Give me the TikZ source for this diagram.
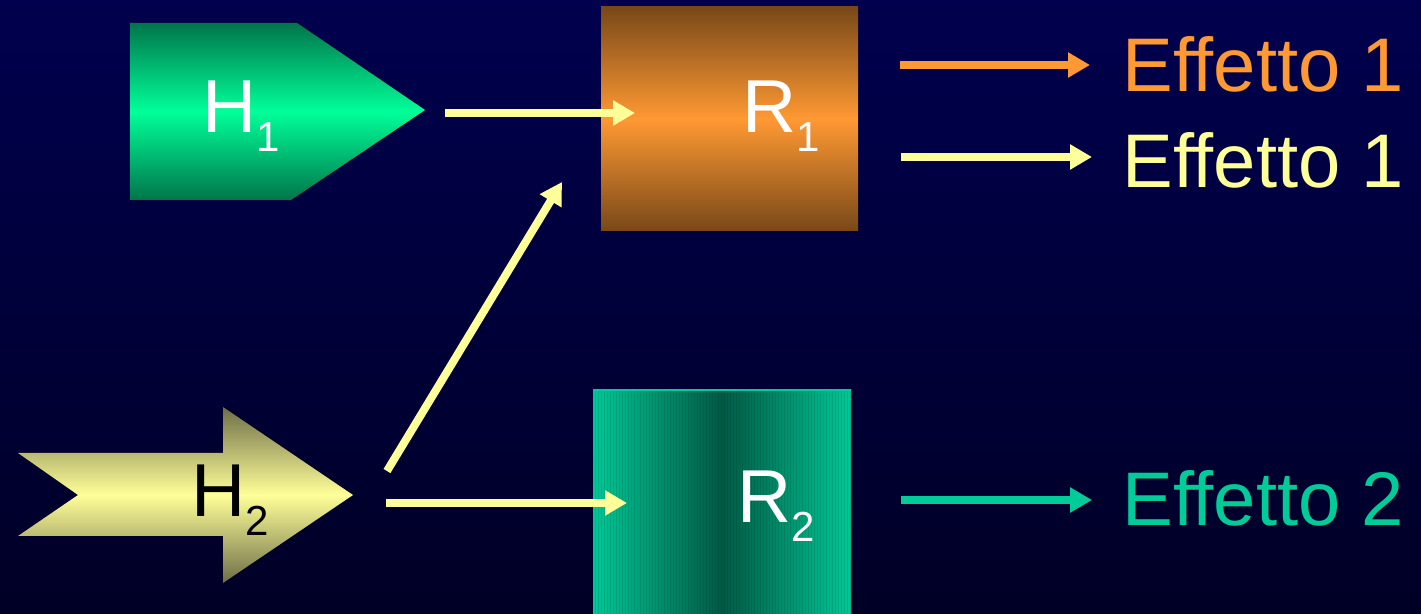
\documentclass[tikz,border=0pt]{standalone}
\usepackage{fontspec}
\setmainfont[Ligatures={NoCommon}]{Liberation Sans}
\usetikzlibrary{arrows.meta}
\definecolor{bgtop}{HTML}{00004E}
\definecolor{bgbot}{HTML}{000026}
\definecolor{hgdark}{HTML}{00754A}
\definecolor{hglight}{HTML}{00FF99}
\definecolor{rbrown}{HTML}{784818}
\definecolor{rorange}{HTML}{FF9933}
\definecolor{hydark}{HTML}{6E6E48}
\definecolor{hylight}{HTML}{FFFF99}
\definecolor{tedge}{HTML}{00C896}
\definecolor{tdark}{HTML}{005A44}
\definecolor{effteal}{HTML}{00CC99}
\newcommand\subs[1]{\raisebox{-9.5pt}{\fontsize{21}{21}\selectfont #1}}
\begin{document}
\begin{tikzpicture}[x=0.5pt,y=-0.5pt,
  conn/.style={line width=4pt, -{Triangle[length=11pt,width=12pt]}},
  lbl/.style={inner sep=0pt, anchor=base west, font=\fontsize{37.5}{37.5}\selectfont},
  efflbl/.style={inner sep=0pt, anchor=base west, font=\fontsize{38}{38}\selectfont},
  box/.style={inner sep=0pt, outer sep=0pt, anchor=north west}]
\useasboundingbox (0,0) rectangle (1421,614);
\fill[top color=bgtop, bottom color=bgbot] (0,0) rectangle (1421,614);

% H1 pentagon
\fill[top color=hgdark, bottom color=hgdark, middle color=hglight]
  (130,23) -- (297,23) -- (425,110) -- (291,200) -- (130,200) -- cycle;
\node[lbl, white] (h1) at (202,133) {H\subs{1}};

% H2 notched arrow
\fill[top color=hydark, bottom color=hydark, middle color=hylight]
  (18,453) -- (223,453) -- (223,407) -- (353,495) -- (223,583) -- (223,536) -- (18,536) -- (78,495) -- cycle;
\node[lbl, black] (h2) at (191,517) {H\subs{2}};

% R1 box
\node[box, minimum width=128.5pt, minimum height=112pt,
  top color=rbrown, bottom color=rbrown, middle color=rorange] (r1box) at (601,7) {};
\node[lbl, white] (r1) at (742,133) {R\subs{1}};

% R2 box
\node[box, minimum width=129pt, minimum height=112pt,
  left color=tedge, right color=tedge, middle color=tdark] (r2box) at (593,390) {};
\foreach \x in {595,598,...,850}
  \draw[black, opacity=0.10, line width=0.5pt] (\x,391) -- (\x,614);
\draw[effteal, line width=1pt] (r2box.north west) -- (r2box.north east);
\node[lbl, white] (r2) at (737,523) {R\subs{2}};

% effect labels
\node[efflbl, rorange] (e1a) at (1122,92) {Effetto 1};
\node[efflbl, hylight] (e1b) at (1122,188) {Effetto 1};
\node[efflbl, effteal] (e2) at (1122,526) {Effetto 2};

% connectors
\coordinate (a1s) at (445,113);  \coordinate (a1e) at (635,113);
\coordinate (a2s) at (387,471);  \coordinate (a2e) at (562,182);
\coordinate (a3s) at (386,503);  \coordinate (a3e) at (627,503);
\coordinate (o1s) at (900,65);   \coordinate (o1e) at (1090,65);
\coordinate (o2s) at (901,157);  \coordinate (o2e) at (1092,157);
\coordinate (o3s) at (901,500);  \coordinate (o3e) at (1092,500);
\draw[conn, hylight] (a1s) -- (a1e);
\draw[conn, hylight] (a2s) -- (a2e);
\draw[conn, hylight] (a3s) -- (a3e);
\draw[conn, rorange] (o1s) -- (o1e);
\draw[conn, hylight] (o2s) -- (o2e);
\draw[conn, effteal] (o3s) -- (o3e);
\end{tikzpicture}
\end{document}
